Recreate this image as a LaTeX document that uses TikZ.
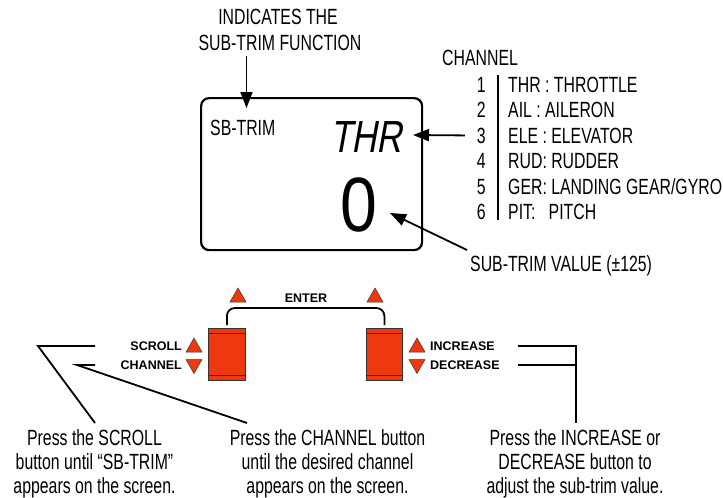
\documentclass[tikz,border=0pt]{standalone}
\usepackage{fontspec}
\setmainfont{Liberation Sans}
\newfontfamily\cond[FakeStretch=0.72]{Liberation Sans}
\newfontfamily\lcdthr[FakeStretch=0.78,FakeSlant=0.18]{Liberation Sans}
\newfontfamily\lcdzero[FakeStretch=0.86]{Liberation Sans}
\usetikzlibrary{arrows.meta}
\definecolor{btnred}{RGB}{238,56,16}
\begin{document}
\begin{tikzpicture}[x=1pt,y=-1pt,
  txt/.style={font=\cond\fontsize{22}{24}\selectfont, inner sep=0pt},
  lbl/.style={font=\bfseries\fontsize{12.5}{14}\selectfont, inner sep=0pt},
  conn/.style={line width=1.8pt},
  arr/.style={line width=1.8pt,-{Triangle[length=16pt,width=12pt]}},
  btn/.style={fill=btnred,draw=black!80,line width=0.8pt,inner sep=0pt,anchor=north west},
  tri/.style={fill=btnred,draw=black!80,line width=0.5pt},
  uptri/.pic={\path[tri] (-8,7) -- (8,7) -- (0,-7) -- cycle;},
  dntri/.pic={\path[tri] (-8,-7) -- (8,-7) -- (0,7) -- cycle;}]
\useasboundingbox (0,0) rectangle (723,498);

% top label and arrow
\node[txt,anchor=base] (ind1) at (278,24) {INDICATES THE};
\node[txt,anchor=base] (ind2) at (280,50) {SUB-TRIM FUNCTION};
\coordinate (a1s) at (246.5,56);
\coordinate (a1e) at (246.5,108);

% screen
\node[draw,line width=2.2pt,rounded corners=8pt,minimum width=221pt,minimum height=152pt,
      anchor=north west,inner sep=0pt] (screen) at (200,97) {};
\draw[arr] (a1s) -- (a1e);
\node[txt,anchor=base west] (sbtrim) at (210,135) {SB-TRIM};
\node[font=\lcdthr\fontsize{45}{45}\selectfont,inner sep=0pt,anchor=base west] (thr) at (330,152) {THR};
\node[font=\lcdzero\fontsize{77}{77}\selectfont,inner sep=0pt,anchor=base west] (zero) at (340,231) {0};

% channel list
\node[txt,anchor=base west] (chan) at (442,65) {CHANNEL};
\foreach \i/\yy/\t in {1/92/{THR : THROTTLE},2/117.5/{AIL : AILERON},3/143/{ELE : ELEVATOR},
                      4/168.5/{RUD: RUDDER},5/194/{GER: LANDING GEAR/GYRO},6/219.5/{PIT:\ \ \ PITCH}}{
  \node[txt,anchor=base east] (n\i) at (486,\yy) {\i};
  \node[txt,anchor=base west] (l\i) at (508,\yy) {\t};
}
\coordinate (bart) at (498,75);
\coordinate (barb) at (498,220);
\draw[line width=2pt] (bart) -- (barb);
\coordinate (thrtip) at (413,135);
\draw[arr] ([xshift=-12pt]n3.west) -- (thrtip);
\node[txt,anchor=base west] (stv) at (470,271) {SUB-TRIM VALUE (±125)};
\coordinate (stvs) at (467,250);
\coordinate (zerotip) at (390,213);
\draw[arr] (stvs) -- (zerotip);

% buttons
\node[btn,minimum width=37pt,minimum height=52pt] (lb) at (208,328) {};
\node[btn,minimum width=36pt,minimum height=52pt] (rb) at (366,328) {};
\draw[line width=0.8pt,black!80] ([yshift=-5pt]lb.north west) -- ([yshift=-5pt]lb.north east)
  ([yshift=5pt]lb.south west) -- ([yshift=5pt]lb.south east)
  ([yshift=-5pt]rb.north west) -- ([yshift=-5pt]rb.north east)
  ([yshift=5pt]rb.south west) -- ([yshift=5pt]rb.south east);
\draw[conn,rounded corners=8pt] ([yshift=3pt]lb.north) |- ([yshift=20pt]rb.north) -- ([yshift=3pt]rb.north);
\pic at (238,295) {uptri};
\pic at (375,295) {uptri};
\node[lbl] (enter) at (306,298) {ENTER};

\pic at (194,345) {uptri};
\pic at (194,366.5) {dntri};
\pic at (417,345) {uptri};
\pic at (417,366.5) {dntri};
\node[lbl,anchor=base east] (scroll) at (182,350.5) {SCROLL};
\node[lbl,anchor=base east] (chbtn) at (182,369.5) {CHANNEL};
\node[lbl,anchor=base west] (inc) at (430,350.5) {INCREASE};
\node[lbl,anchor=base west] (dec) at (430,369.5) {DECREASE};

% bottom notes
\node[txt,align=center,anchor=north] (b1) at (94.5,429.5) {Press the SCROLL\\button until “SB-TRIM”\\appears on the screen.};
\node[txt,align=center,anchor=north] (b2) at (327.5,429.5) {Press the CHANNEL button\\until the desired channel\\appears on the screen.};
\node[txt,align=center,anchor=north] (b3) at (575,429.5) {Press the INCREASE or\\DECREASE button to\\adjust the sub-trim value.};

% leader lines
\coordinate (s1) at (95,346);
\coordinate (s2) at (38,346);
\coordinate (s3) at (95,423);
\draw[conn] (s1) -- (s2) -- (s3);
\coordinate (c1) at (95,365);
\coordinate (c2) at (77,365);
\coordinate (c3) at (247,423);
\draw[conn] (c1) -- (c2) -- (c3);
\coordinate (i1) at (518,346);
\coordinate (i2) at (576,346);
\coordinate (d1) at (518,365);
\coordinate (d2) at (576,365);
\coordinate (v3) at (576,423);
\draw[conn] (i1) -- (i2) -- (v3);
\draw[conn] (d1) -- (d2);
\end{tikzpicture}
\end{document}
